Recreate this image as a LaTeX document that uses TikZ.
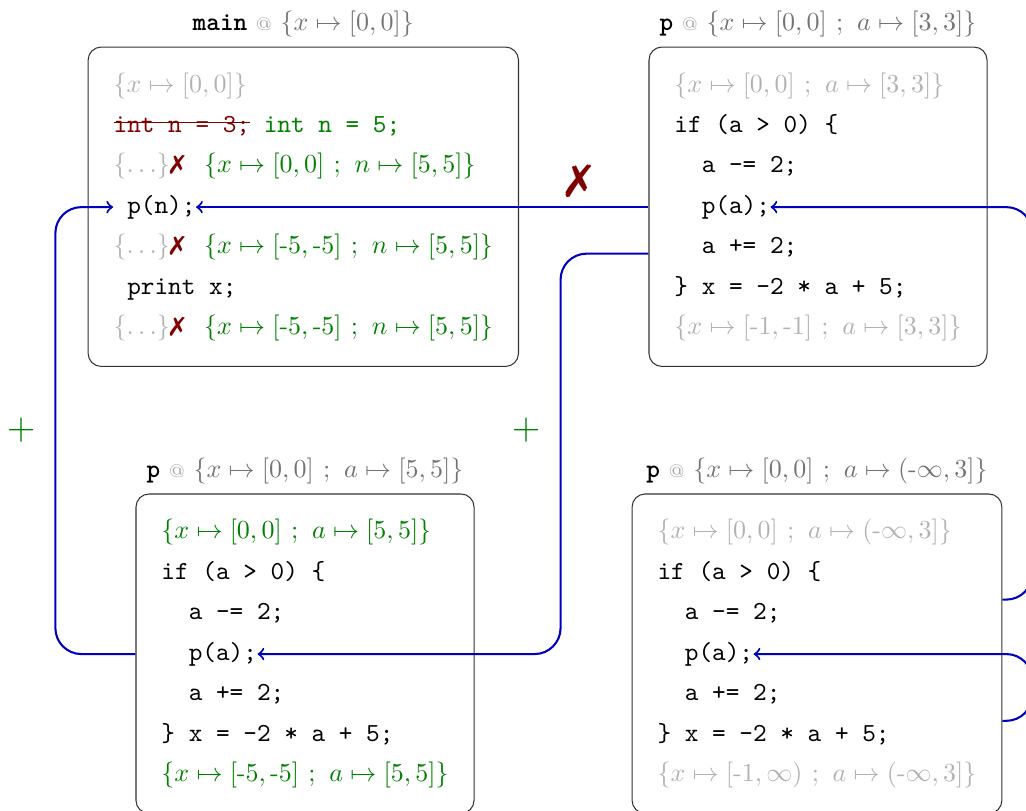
\documentclass[tikz,border=0pt]{standalone}
\usepackage{amsmath}
\usepackage{amssymb}
\usepackage{pifont}
\usepackage{tikz}
\usetikzlibrary{calc}
\usetikzlibrary{fit, positioning}

\colorlet{faded}{black!30}
\colorlet{good}{green!50!black}
\colorlet{bad}{red!50!black}
\colorlet{flow}{blue!75!black}
\colorlet{ctxt}{black!55}
\colorlet{atc}{black!35}

\newcommand{\hy}{\textrm{-}}
\newcommand{\stsep}{\hspace{3.6pt};\hspace{3.6pt}}
\newcommand{\nope}{\textcolor{bad}{\ding{55}}}
\newsavebox{\strikebox}
\newcommand{\struck}[1]{\sbox{\strikebox}{#1}\rlap{\rule[3.5pt]{\wd\strikebox}{0.4pt}}\usebox{\strikebox}}

\begin{document}
\begin{tikzpicture}[
			x=1pt, y=1pt,
			row/.style={
					inner sep=0pt,
					anchor=base west,
					font=\ttfamily
				},
			codebox/.style={
					draw=black!80,
					rounded corners=5pt,
					inner sep=9.6pt % Space between rows and the box border
				},
			call/.style={->, thick, draw=flow, rounded corners=10pt},
			plus/.style={text=good, font=\Large}
		]
		\useasboundingbox (0, 0) rectangle (394.6, -311.9);

		% main
		\node[row] (m1) at (43.5, -35.4) {\textcolor{faded}{$\{x \mapsto [0,0]\}$}};
		\node[row] (m2) at (43.5, -50.94) {\textcolor{bad}{\struck{int n = 3;}} \textcolor{good}{int n = 5;}};
		\node[row] (m3) at (43.5, -66.48) {\textcolor{faded}{$\{\ldots\}$}\nope\hspace{7.4pt}\textcolor{good}{$\{x \mapsto [0,0] \stsep n \mapsto [5,5]\}$}};
		\node[row] (m4) at (43.5, -82.02) {\ p(n);};
		\node[row] (m5) at (43.5, -97.56) {\textcolor{faded}{$\{\ldots\}$}\nope\hspace{7.4pt}\textcolor{good}{$\{x \mapsto [\hy 5,\hy 5] \stsep n \mapsto [5,5]\}$}};
		\node[row] (m6) at (43.5, -113.1) {\ print x;};
		\node[row] (m7) at (43.5, -128.64) {\textcolor{faded}{$\{\ldots\}$}\nope\hspace{7.4pt}\textcolor{good}{$\{x \mapsto [\hy 5,\hy 5] \stsep n \mapsto [5,5]\}$}};

		\node[codebox, fit=(m1) (m2) (m3) (m4) (m5) (m6) (m7)] (mainbox) {};
		\node[above=0pt of mainbox] (mainttl) {\texttt{\textbf{main}} \textcolor{atc}{\scriptsize @} \textcolor{ctxt}{$\{x \mapsto [0,0]\}$}};

		% the three frames of p share their body
		\foreach \bx/\cx/\cy in {tr/259.2/-35.4, bl/61.9/-207.3, br/252.7/-207.3} {
				\node[row] (\bx2) at (\cx, \cy-15.54) {if (a > 0) \{};
				\node[row] (\bx3) at (\cx+10.5, \cy-2*15.54) {a -= 2;};
				\node[row] (\bx4) at (\cx+10.5, \cy-3*15.54) {p(a);};
				\node[row] (\bx5) at (\cx+10.5, \cy-4*15.54) {a += 2;};
				\node[row] (\bx6) at (\cx, \cy-5*15.54) {\} x = -2 * a + 5;};
			}

		\node[row] (tr1) at (259.2, -35.4) {\textcolor{faded}{$\{x \mapsto [0,0] \stsep a \mapsto [3,3]\}$}};
		\node[row] (tr7) at (259.2, -128.64) {\textcolor{faded}{$\{x \mapsto [\hy 1,\hy 1] \stsep a \mapsto [3,3]\}$}};
		\node[row] (bl1) at (61.9, -207.3) {\textcolor{good}{$\{x \mapsto [0,0] \stsep a \mapsto [5,5]\}$}};
		\node[row] (bl7) at (61.9, -300.54) {\textcolor{good}{$\{x \mapsto [\hy 5,\hy 5] \stsep a \mapsto [5,5]\}$}};
		\node[row] (br1) at (252.7, -207.3) {\textcolor{faded}{$\{x \mapsto [0,0] \stsep a \mapsto (\hy\infty,3]\}$}};
		\node[row] (br7) at (252.7, -300.54) {\textcolor{faded}{$\{x \mapsto [\hy 1,\infty) \stsep a \mapsto (\hy\infty,3]\}$}};

		\node[codebox, fit=(tr1) (tr2) (tr3) (tr4) (tr5) (tr6) (tr7)] (trbox) {};
		\node[codebox, fit=(bl1) (bl2) (bl3) (bl4) (bl5) (bl6) (bl7)] (blbox) {};
		\node[codebox, fit=(br1) (br2) (br3) (br4) (br5) (br6) (br7)] (brbox) {};

		\node[above=0pt of trbox] (trttl) {\texttt{\textbf{p}} \textcolor{atc}{\scriptsize @} \textcolor{ctxt}{$\{x \mapsto [0,0] \stsep a \mapsto [3,3]\}$}};
		\node[above=0pt of blbox] (blttl) {\texttt{\textbf{p}} \textcolor{atc}{\scriptsize @} \textcolor{ctxt}{$\{x \mapsto [0,0] \stsep a \mapsto [5,5]\}$}};
		\node[above=0pt of brbox] (brttl) {\texttt{\textbf{p}} \textcolor{atc}{\scriptsize @} \textcolor{ctxt}{$\{x \mapsto [0,0] \stsep a \mapsto (\hy\infty,3]\}$}};

		% calls
		\coordinate (brup) at ($(br2.base)!.5!(br3.base)$);
		\coordinate (brself) at ($(br5.base)!.5!(br6.base)$);

		\draw[call] (trbox.west |- m4.east) -- node[pos=0.155, above, text=bad, font=\LARGE] (cut) {\ding{55}} (m4.east);
		\draw[call] (trbox.west |- tr5.base) -- ++(-33.8, 0) |- node[pos=0.22, left=4pt, plus] (plusr) {$+$} (bl4.east);
		\draw[call] (blbox.west |- bl4.east) -- ++(-30.8, 0) |- node[pos=0.25, left=4pt, plus] (plusl) {$+$} (m4.west);
		\draw[call] (brbox.east |- brup) -- ++(11.5, 0) |- (tr4.east);
		\draw[call] (brbox.east |- brself) -- ++(11.5, 0) |- (br4.east);
	\end{tikzpicture}
\end{document}
